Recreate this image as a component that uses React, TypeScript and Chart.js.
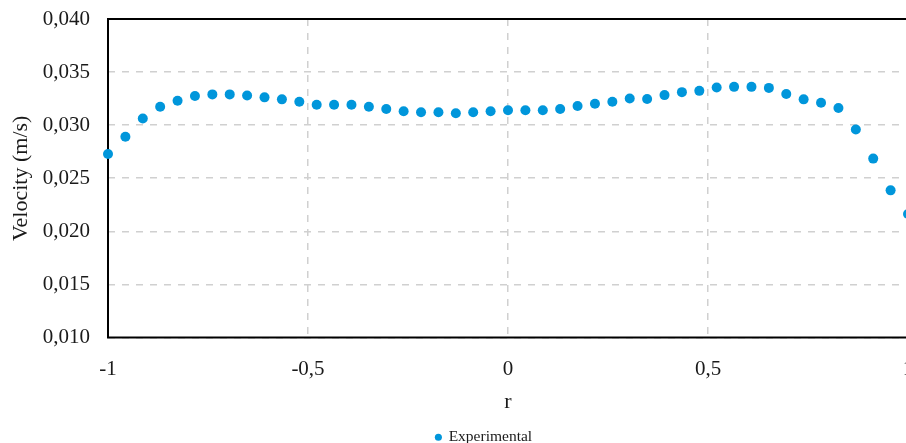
import { useEffect, useRef } from 'react';
import { Chart, registerables } from 'chart.js';

Chart.register(...registerables);

// r positions (normalised radius)
const rValues = [
  -1, -0.9565, -0.913, -0.8696, -0.8261, -0.7826, -0.7391, -0.6957, -0.6522, -0.6087,
  -0.5652, -0.5217, -0.4783, -0.4348, -0.3913, -0.3478, -0.3043, -0.2609, -0.2174, -0.1739,
  -0.1304, -0.087, -0.0435, 0, 0.0435, 0.087, 0.1304, 0.1739, 0.2174, 0.2609,
  0.3043, 0.3478, 0.3913, 0.4348, 0.4783, 0.5217, 0.5652, 0.6087, 0.6522, 0.6957,
  0.7391, 0.7826, 0.8261, 0.8696, 0.913, 0.9565, 1,
];

// measured velocity (m/s)
const velocityValues = [
  0.02729, 0.02891, 0.03062, 0.03174, 0.0323, 0.03274, 0.0329, 0.0329, 0.0328, 0.03262,
  0.03243, 0.0322, 0.03193, 0.03193, 0.03193, 0.03174, 0.03152, 0.03131, 0.03121, 0.03121,
  0.03112, 0.03121, 0.03131, 0.0314, 0.0314, 0.0314, 0.03152, 0.0318, 0.03202, 0.0322,
  0.03252, 0.03246, 0.03283, 0.03311, 0.03323, 0.03355, 0.03361, 0.03361, 0.03351, 0.03293,
  0.03243, 0.03211, 0.03162, 0.02959, 0.02685, 0.02386, 0.02164,
];

const xTickValues = [-1, -0.5, 0, 0.5, 1];
const yTickValues = [0.01, 0.015, 0.02, 0.025, 0.03, 0.035, 0.04];

const seriesLabel = 'Experimental';
const xTitle = 'r';
const yTitle = 'Velocity (m/s)';

const frame = {
  id: 'frame',
  beforeDatasetsDraw(chart: any) {
    const { ctx, chartArea } = chart;
    const { left, top, right, bottom } = chartArea;
    ctx.save();
    ctx.strokeStyle = '#000000';
    ctx.lineWidth = 2;
    ctx.strokeRect(left, top, right - left, bottom - top);
    ctx.restore();
  },
};

// centre the legend under the whole figure rather than under the plot
const legendShift = {
  id: 'legendShift',
  afterLayout(chart: any) {
    const lg = chart.legend;
    if (lg) {
      lg.left += 26;
      lg.right += 26;
    }
  },
};

export default function App() {
  const ref = useRef<HTMLCanvasElement | null>(null);

  useEffect(() => {
    document.documentElement.style.overflow = 'hidden';
    document.body.style.margin = '0';
    if (!ref.current) return;
    const serif = "'Liberation Serif', 'Times New Roman', serif";
    const textColor = '#1a1a1a';
    const chart = new Chart(ref.current, {
      type: 'scatter',
      data: {
        datasets: [
          {
            label: seriesLabel,
            data: rValues.map((r, i) => ({ x: r, y: velocityValues[i] })),
            backgroundColor: 'rgb(0,150,219)',
            borderColor: 'rgb(0,150,219)',
            borderWidth: 0,
            pointRadius: 5,
            pointHoverRadius: 5,
            showLine: false,
            clip: false as any,
          },
        ],
      },
      options: {
        animation: false,
        responsive: true,
        maintainAspectRatio: false,
        events: [],
        layout: { padding: { left: 0, right: 58, top: 11, bottom: 0 } },
        plugins: {
          tooltip: { enabled: false },
          legend: {
            position: 'bottom',
            labels: {
              usePointStyle: true,
              pointStyle: 'circle',
              boxWidth: 5,
              boxHeight: 5,
              padding: 10,
              color: textColor,
              font: { family: serif, size: 15.5 },
            },
          },
        },
        scales: {
          x: {
            type: 'linear',
            min: -1,
            max: 1,
            afterBuildTicks: (scale: any) => {
              scale.ticks = xTickValues.map((v) => ({ value: v }));
            },
            afterFit: (scale: any) => {
              scale.height = 82;
              scale.paddingLeft = 0;
              scale.paddingRight = 0;
            },
            grid: { color: '#d0d0d0', lineWidth: 1.5, drawTicks: false },
            border: { display: false, dash: [7, 7] },
            ticks: {
              padding: 19,
              color: textColor,
              font: { family: serif, size: 21 },
              callback: (v: any) => String(v).replace('.', ','),
            },
            title: {
              display: true,
              text: xTitle,
              color: textColor,
              font: { family: serif, size: 22 },
              padding: { top: 0, bottom: 4 },
            },
          },
          y: {
            type: 'linear',
            min: 0.01,
            max: 0.04,
            afterBuildTicks: (scale: any) => {
              scale.ticks = yTickValues.map((v) => ({ value: v }));
            },
            afterFit: (scale: any) => {
              scale.width = 100;
              scale.paddingTop = 0;
              scale.paddingBottom = 0;
            },
            grid: { color: '#d0d0d0', lineWidth: 1.5, drawTicks: false },
            border: { display: false, dash: [7, 7] },
            ticks: {
              padding: 18,
              color: textColor,
              font: { family: serif, size: 21, lineHeight: 1 },
              callback: (v: any) => Number(v).toFixed(3).replace('.', ','),
            },
            title: {
              display: true,
              text: yTitle,
              color: textColor,
              font: { family: serif, size: 22 },
              padding: { top: 0, bottom: 0 },
            },
          },
        },
      },
      plugins: [frame, legendShift],
    });
    return () => chart.destroy();
  }, []);

  return (
    <div style={{ position: 'relative', width: 906, height: 443, overflow: 'hidden' }}>
      <div style={{ position: 'absolute', left: 8, top: 8, width: 958, height: 447 }}>
        <canvas ref={ref} />
      </div>
    </div>
  );
}
